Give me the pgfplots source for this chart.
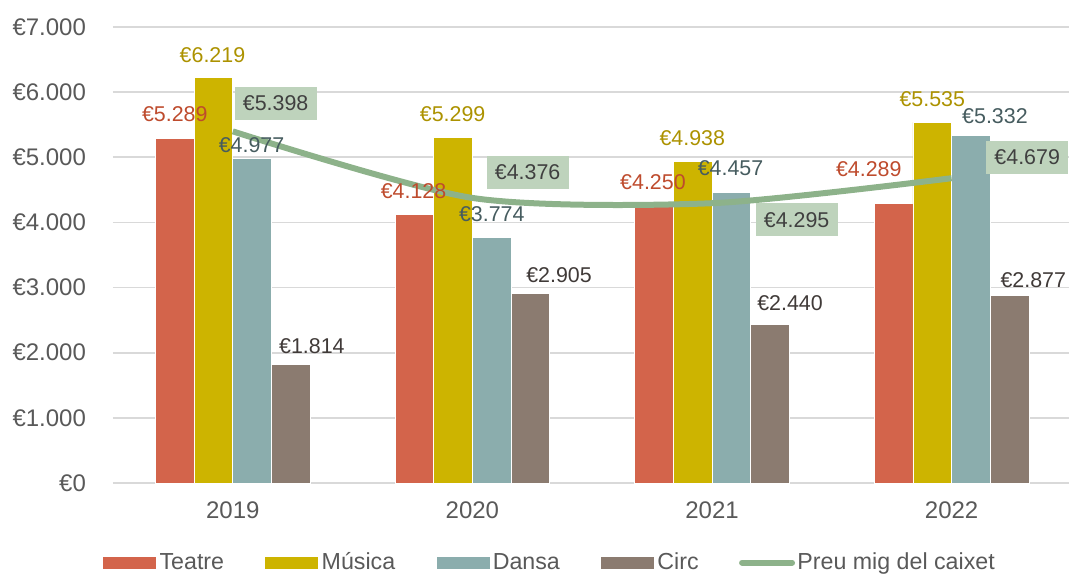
\documentclass[border=0pt]{standalone}
\usepackage{fontspec}
\setmainfont{Liberation Sans}
\usepackage{pgfplots}
\usepackage{pgfplotstable}
\pgfplotsset{compat=1.18}

\definecolor{cTeatre}{RGB}{211,100,75}
\definecolor{cMusica}{RGB}{205,180,0}
\definecolor{cDansa}{RGB}{139,173,173}
\definecolor{cCirc}{RGB}{139,123,112}
\definecolor{cTeatreL}{RGB}{190,75,45}
\definecolor{cMusicaL}{RGB}{172,146,0}
\definecolor{cDansaL}{RGB}{70,92,95}
\definecolor{cCircL}{RGB}{64,58,56}
\definecolor{cLine}{RGB}{141,178,138}
\definecolor{cBox}{RGB}{190,211,188}
\definecolor{cBoxText}{RGB}{64,64,64}
\definecolor{cGrid}{RGB}{217,217,217}
\definecolor{cTick}{RGB}{89,89,89}

\pgfplotstableread{
x y dx dy
0 5289 0 12
1 4128 -0.4 11.5
2 4250 -0.5 11.8
3 4289 -12.4 17
}\teatretab
\pgfplotstableread{
x y dx dy
0 6219 -0.5 11.6
1 5299 -0.2 11.8
2 4938 -0.2 11.7
3 5535 0 11.8
}\musicatab
\pgfplotstableread{
x y dx dy
0 4977 -0.3 6.7
1 3774 0 11.7
2 4457 -0.4 12.2
3 5332 12 9.8
}\dansatab
\pgfplotstableread{
x y dx dy
0 1814 10.5 9.3
1 2905 14.3 9.2
2 2440 10 10.5
3 2877 11.8 7.9
}\circtab
\pgfplotstableread{
x y dx dy
0 5398 21.4 14
1 4376 27.6 12.7
2 4295 42.3 -8.3
3 4679 37.8 10.4
}\preutab

\pgfplotsset{
  barlabel/.style 2 args={
    nodes near coords={€\pgfmathprintnumber{\pgfplotspointmeta}},
    visualization depends on={\thisrow{dx}\as\labdx},
    visualization depends on={\thisrow{dy}\as\labdy},
    every node near coord/.append style={anchor=center, xshift={\labdx pt + #2}, yshift=\labdy pt,
      font=\fontsize{10.7}{12}\selectfont, text=#1, inner sep=0pt},
  },
  labelonly/.style={ybar, bar width=19.35pt, draw=none, fill=none, forget plot},
  barleg/.style={legend image code/.code={\fill[##1] (0pt,-3.2pt) rectangle (27pt,3.2pt);}},
  lineleg/.style={legend image code/.code={\draw[##1, line cap=round] (0pt,0pt) -- (25pt,0pt);}},
}

\begin{document}
\begin{tikzpicture}
\begin{axis}[
  scale only axis, width=478pt, height=228pt,
  xmin=-0.5, xmax=3.49, ymin=0, ymax=7000,
  clip=false,
  xtick={0,1,2,3}, xticklabels={2019,2020,2021,2022},
  ytick={0,1000,...,7000},
  ymajorgrids, grid style={color=cGrid, line width=0.9pt},
  axis line style={draw=none},
  major tick length=0pt,
  tick label style={font=\fontsize{12}{14}\selectfont, text=cTick},
  yticklabel={€\pgfmathprintnumber{\tick}},
  yticklabel style={xshift=-10pt},
  xticklabel style={yshift=-6pt},
  /pgf/number format/.cd, fixed, precision=0, 1000 sep={.}, assume math mode=true, /pgfplots/.cd,
  legend style={at={(-0.0115,-0.1745)}, anchor=west, draw=none, fill=none, inner sep=0pt,
    font=\fontsize{11.6}{13}\selectfont, text=cTick, nodes={inner sep=1.2pt},
    /tikz/every even column/.append style={column sep=19pt}},
  legend columns=5,
  legend cell align=left,
]
\addplot[ybar, bar width=19.35pt, bar shift=-29.025pt, fill=cTeatre, draw=white, line width=0.4pt, barleg]
  table[x=x,y=y]{\teatretab};
\addlegendentry{Teatre}
\addplot[ybar, bar width=19.35pt, bar shift=-9.675pt, fill=cMusica, draw=white, line width=0.4pt, barleg]
  table[x=x,y=y]{\musicatab};
\addlegendentry{Música}
\addplot[ybar, bar width=19.35pt, bar shift=9.675pt, fill=cDansa, draw=white, line width=0.4pt, barleg]
  table[x=x,y=y]{\dansatab};
\addlegendentry{Dansa}
\addplot[ybar, bar width=19.35pt, bar shift=29.025pt, fill=cCirc, draw=white, line width=0.4pt, barleg]
  table[x=x,y=y]{\circtab};
\addlegendentry{Circ}
\addplot[color=cLine, line width=3pt, smooth, tension=0.45, mark=none, lineleg]
  table[x=x,y=y]{\preutab};
\addlegendentry{Preu mig del caixet}
% value labels, drawn above the line
\addplot[labelonly, bar shift=-29.025pt, barlabel={cTeatreL}{-29.025pt}] table[x=x,y=y]{\teatretab};
\addplot[labelonly, bar shift=-9.675pt, barlabel={cMusicaL}{-9.675pt}] table[x=x,y=y]{\musicatab};
\addplot[labelonly, bar shift=9.675pt, barlabel={cDansaL}{9.675pt}] table[x=x,y=y]{\dansatab};
\addplot[labelonly, bar shift=29.025pt, barlabel={cCircL}{29.025pt}] table[x=x,y=y]{\circtab};
\addplot[draw=none, mark=none, forget plot,
  nodes near coords={€\pgfmathprintnumber{\pgfplotspointmeta}},
  visualization depends on={\thisrow{dx}\as\labdx},
  visualization depends on={\thisrow{dy}\as\labdy},
  every node near coord/.append style={anchor=center, xshift=\labdx pt, yshift=\labdy pt,
    font=\fontsize{10.7}{12}\selectfont, text=cBoxText, fill=cBox, inner sep=0pt,
    minimum width=41pt, minimum height=16.5pt},
  ]
  table[x=x,y=y]{\preutab};
\end{axis}
\pgfresetboundingbox
\path[use as bounding box] (current axis.south west) ++(-56.5pt,-45.5pt) rectangle ++(534.5pt,287pt);
\end{tikzpicture}
\end{document}
